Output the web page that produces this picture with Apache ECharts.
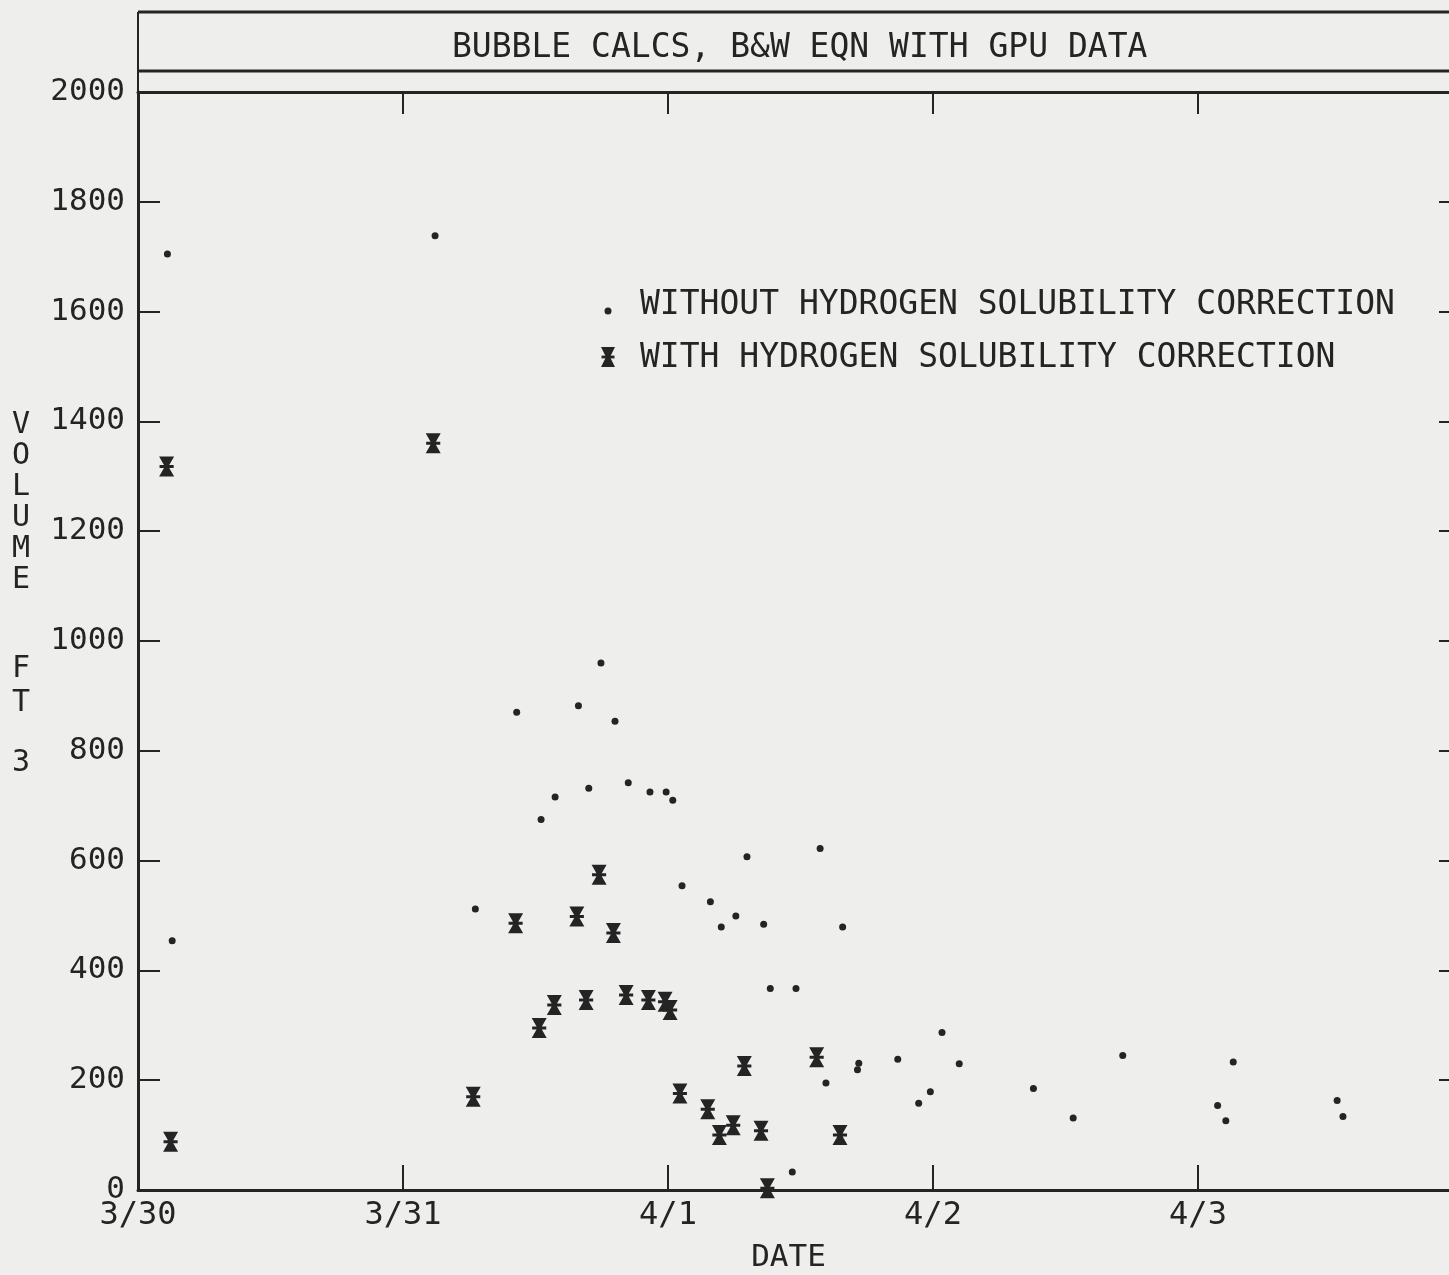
<!DOCTYPE html>
<html>
<head>
<meta charset="utf-8">
<script src="https://cdn.jsdelivr.net/npm/echarts@6/dist/echarts.min.js"></script>
<style>
html,body{margin:0;padding:0;background:#eeeeec;}
#chart{width:1449px;height:1275px;}
</style>
</head>
<body>
<div id="chart"></div>
<script>
// Tick labels (days since 3/30 00:00)
const dateLabels = ['3/30', '3/31', '4/1', '4/2', '4/3', ''];

// Without hydrogen solubility correction (dots)
const withoutDays = [0.111, 0.129, 1.121, 1.273, 1.429, 1.521, 1.574, 1.662, 1.701, 1.747, 1.800, 1.850, 1.932, 1.993, 2.018, 2.053, 2.160, 2.201, 2.256, 2.298, 2.361, 2.386, 2.469, 2.483, 2.574, 2.596, 2.659, 2.720, 2.715, 2.867, 2.946, 2.990, 3.034, 3.099, 3.379, 3.529, 3.716, 4.074, 4.105, 4.133, 4.525, 4.547];
const withoutVol  = [1705, 454, 1738, 512, 870, 675, 716, 882, 732, 960, 854, 742, 725, 725, 710, 554, 525, 479, 499, 607, 484, 367, 33, 367, 622, 195, 479, 231, 219, 238, 158, 179, 287, 230, 185, 131, 245, 154, 126, 233, 163, 134];

// With hydrogen solubility correction (stars)
const withDays = [0.108, 0.123, 1.114, 1.265, 1.425, 1.514, 1.571, 1.656, 1.691, 1.740, 1.794, 1.842, 1.926, 1.989, 2.008, 2.045, 2.150, 2.194, 2.246, 2.288, 2.351, 2.375, 2.561, 2.649];
const withVol  = [1318, 88, 1360, 170, 486, 295, 337, 498, 346, 574, 468, 355, 346, 343, 328, 176, 147, 100, 118, 226, 108, 3, 242, 100];

const titleText = 'BUBBLE CALCS, B&W EQN WITH GPU DATA';
const seriesNames = ['WITHOUT HYDROGEN SOLUBILITY CORRECTION', 'WITH HYDROGEN SOLUBILITY CORRECTION'];

const INK = '#242424';
const FONT = '"DejaVu Sans Mono", "Liberation Mono", monospace';
const STAR = 'path://M0,0 L10,0 L6.2,6 L10,12 L0,12 L3.8,6 Z M0.3,5.1 L9.7,5.1 L9.7,6.9 L0.3,6.9 Z';

const chart = echarts.init(document.getElementById('chart'), null, {renderer: 'canvas'});

const pairs = (xs, ys) => xs.map((x, i) => [x, ys[i]]);

const option = {
  backgroundColor: '#eeeeec',
  animation: false,
  grid: {left: 138, top: 92, width: 1325, height: 1098, containLabel: false, outerBoundsMode: 'none'},
  xAxis: [
    {
      type: 'value', position: 'bottom', min: 0, max: 5, interval: 1,
      axisLine: {show: true, onZero: false, lineStyle: {color: INK, width: 3}},
      axisTick: {show: true, inside: true, length: 25, lineStyle: {color: INK, width: 2}},
      axisLabel: {
        margin: 10, color: INK, fontFamily: FONT, fontSize: 32,
        formatter: v => dateLabels[Math.round(v)] || ''
      },
      splitLine: {show: false},
      name: 'DATE', nameLocation: 'middle', nameGap: 52,
      nameTextStyle: {color: INK, fontFamily: FONT, fontSize: 31, padding: [0, 24, 0, 0]}
    },
    {
      type: 'value', position: 'top', min: 0, max: 5, interval: 1,
      axisLine: {show: true, onZero: false, lineStyle: {color: INK, width: 3}},
      axisTick: {show: true, inside: true, length: 22, lineStyle: {color: INK, width: 2}},
      axisLabel: {show: false},
      splitLine: {show: false}
    }
  ],
  yAxis: [
    {
      type: 'value', position: 'left', min: 0, max: 2000, interval: 200,
      axisLine: {show: true, onZero: false, lineStyle: {color: INK, width: 3}},
      axisTick: {show: true, inside: true, length: 22, lineStyle: {color: INK, width: 2}},
      axisLabel: {margin: 13, color: INK, fontFamily: FONT, fontSize: 31, formatter: v => String(v)},
      splitLine: {show: false}
    },
    {
      type: 'value', position: 'right', min: 0, max: 2000, interval: 200,
      axisLine: {show: true, onZero: false, lineStyle: {color: INK, width: 3}},
      axisTick: {show: true, inside: true, length: 24, lineStyle: {color: INK, width: 2}},
      axisLabel: {show: false},
      splitLine: {show: false}
    }
  ],
  series: [
    {
      name: seriesNames[0], type: 'scatter', xAxisIndex: 0, yAxisIndex: 0,
      symbol: 'circle', symbolSize: 7,
      itemStyle: {color: INK, opacity: 1},
      data: pairs(withoutDays, withoutVol)
    },
    {
      name: seriesNames[1], type: 'scatter', xAxisIndex: 0, yAxisIndex: 0,
      symbol: STAR, symbolSize: [15, 20],
      itemStyle: {color: INK, opacity: 1},
      data: pairs(withDays, withVol)
    }
  ],
  graphic: [
    // title box
    {type: 'line', shape: {x1: 138, y1: 12, x2: 1449, y2: 12}, style: {stroke: INK, lineWidth: 3}},
    {type: 'line', shape: {x1: 138, y1: 71, x2: 1449, y2: 71}, style: {stroke: INK, lineWidth: 3}},
    {type: 'line', shape: {x1: 138, y1: 12, x2: 138, y2: 92}, style: {stroke: INK, lineWidth: 2}},
    {type: 'text', left: 452, top: 32, style: {text: titleText, fill: INK, font: '33px ' + FONT}},
    // legend markers
    {type: 'circle', shape: {cx: 608, cy: 311, r: 3.5}, style: {fill: INK}},
    {type: 'polygon', shape: {points: [[601, 347], [615, 347], [610, 357], [615, 367], [601, 367], [606, 357]]}, style: {fill: INK}},
    {type: 'rect', shape: {x: 601.5, y: 355.6, width: 13, height: 2.8}, style: {fill: INK}},
    {type: 'text', left: 640, top: 289, style: {text: seriesNames[0], fill: INK, font: '33px ' + FONT}},
    {type: 'text', left: 640, top: 342, style: {text: seriesNames[1], fill: INK, font: '33px ' + FONT}},
    // y axis title (stacked letters)
    {type: 'text', left: 12, top: 410, style: {text: 'V\nO\nL\nU\nM\nE', fill: INK, font: '30px ' + FONT, lineHeight: 31}},
    {type: 'text', left: 12, top: 652, style: {text: 'F\nT', fill: INK, font: '30px ' + FONT, lineHeight: 34}},
    {type: 'text', left: 12, top: 748, style: {text: '3', fill: INK, font: '30px ' + FONT}}
  ]
};

chart.setOption(option);
</script>
</body>
</html>
